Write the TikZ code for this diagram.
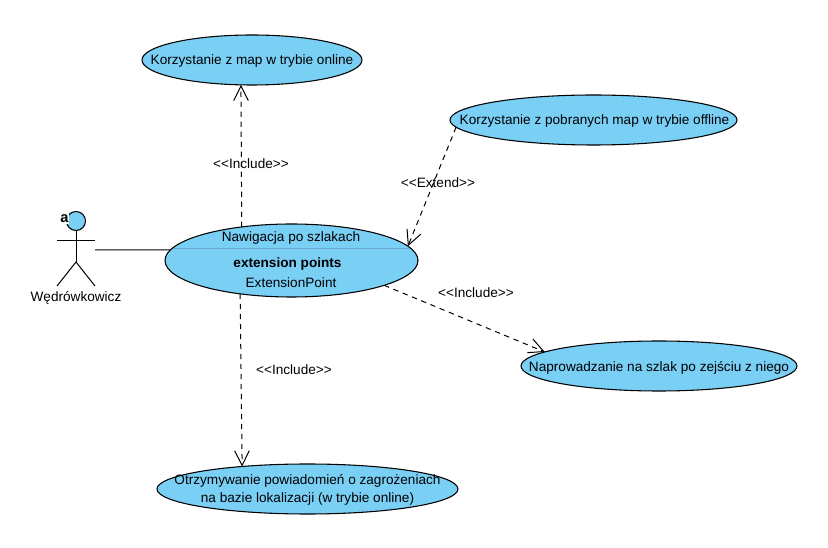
\documentclass[tikz,border=0pt]{standalone}
\usepackage{fontspec}
\setmainfont{Liberation Sans}
\usetikzlibrary{shapes.geometric, arrows.meta}
\definecolor{ucblue}{HTML}{7ACFF5}
\definecolor{ucline}{HTML}{68A9CB}
\tikzset{
	usecase/.style 2 args={ellipse, draw, fill=ucblue, line width=0.8pt, inner sep=0pt, outer sep=0pt, minimum width=#1*0.75pt, minimum height=#2*0.75pt},
	uctext/.style={inner sep=0pt, font=\fontsize{10.2pt}{12pt}\selectfont, text=black},
	depline/.style={dashed, dash pattern=on 4pt off 3.5pt, line width=0.75pt, -{Straight Barb[length=11pt, width=11pt]}}
}
\begin{document}
\begin{tikzpicture}[x=0.75pt, y=-0.75pt]
	\useasboundingbox (0,0) rectangle (828,548);

	\node[usecase={220}{50}] (online) at (252,60) {};
	\node[usecase={287}{50}] (offline) at (593.5,120) {};
	\node[usecase={253}{73}] (nawigacja) at (291.5,260.5) {};
	\node[usecase={276}{50}] (szlak) at (659,366) {};
	\node[usecase={301}{50}] (powiadomienia) at (307.5,489) {};

	\draw[ucline, line width=0.5pt] (nawigacja.174) -- (nawigacja.6);

	\node[uctext] (onlinetext) at (252,60.7) {Korzystanie z map w trybie online};
	\node[uctext] (offlinetext) at (594.5,120.6) {Korzystanie z pobranych map w trybie offline};
	\node[uctext] (nawigacjatext) at (291,237.5) {Nawigacja po szlakach};
	\node[uctext, font=\fontsize{10.2pt}{12pt}\selectfont\bfseries] (pointstext) at (287.5,263.5) {extension points};
	\node[uctext] (extensiontext) at (291,283) {ExtensionPoint};
	\node[uctext] (szlaktext) at (659,367.6) {Naprowadzanie na szlak po zejściu z niego};
	\node[uctext] (powiadomieniatext) at (307.5,481) {Otrzymywanie powiadomień o zagrożeniach};
	\node[uctext] (lokalizacjatext) at (307.5,499) {na bazie lokalizacji (w trybie online)};

	% actor
	\node[circle, draw, fill=ucblue, line width=0.8pt, inner sep=0pt, minimum size=14.25pt] (head) at (76,221) {};
	\node[inner sep=0.5pt, fill=white, font=\fontsize{11pt}{12pt}\selectfont\bfseries] (actorletter) at (64.5,219) {a};
	\coordinate (armleft) at (57,241);
	\coordinate (armright) at (95,241);
	\coordinate (hip) at (76,262);
	\coordinate (footleft) at (57,286);
	\coordinate (footright) at (95,286);
	\draw[line width=0.75pt] (armleft) -- (armright);
	\draw[line width=0.75pt] (head) -- (hip);
	\draw[line width=0.75pt] (footleft) -- (hip) -- (footright);
	\node[uctext] (actorname) at (76,297.5) {Wędrówkowicz};

	\coordinate (actorend) at (95,250);
	\draw[line width=0.75pt] (actorend) -- (nawigacja.175);

	\draw[depline] (nawigacja.146.4) -- (online.246.2);
	\draw[depline] (offline.183) -- (nawigacja.7);
	\draw[depline] (nawigacja.-15) -- (szlak.173.1);
	\draw[depline] (nawigacja.213.6) -- (powiadomienia.161.4);

	\foreach \x/\y/\nm/\txt in {251/164/labela/Include, 438/183/labelb/Extend, 476/293/labelc/Include, 294/370/labeld/Include}
	{
		\node[uctext] (\nm) at (\x,\y) {<{}<\txt>{}>};
	}
\end{tikzpicture}
\end{document}
